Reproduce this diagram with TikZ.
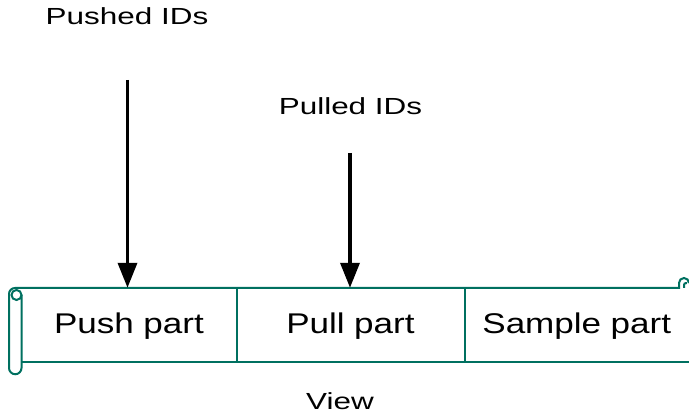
\documentclass[tikz,border=0pt]{standalone}
\usepackage{fontspec}
\setmainfont{Liberation Sans}[FakeStretch=1.35]
\newfontfamily\cellfont{Liberation Sans}[FakeStretch=1.23]
\usetikzlibrary{arrows.meta}
\definecolor{scrollgreen}{RGB}{0,112,96}
\begin{document}
\begin{tikzpicture}[x=1pt, y=1pt,
  idlabel/.style={font=\fontsize{23.3}{28}\selectfont, anchor=base, inner sep=0pt},
  cell/.style={font=\cellfont\fontsize{28.5}{33}\selectfont, inner sep=0pt, text height=46pt, text depth=28pt, align=center},
  idarrow/.style={line width=3.5pt, -{Triangle[width=19pt,length=25pt]}},
  scrollline/.style={draw=scrollgreen, line width=2pt}]
\useasboundingbox (0,0) rectangle (689,417);
\node[idlabel] (pushed) at (127,392) {Pushed IDs};
\node[idlabel] (pulled) at (350.5,302) {Pulled IDs};
\node[idlabel] (view) at (340,7) {View};
\node[cell, text width=215pt] (push) at (129,92) {Push part};
\node[cell, text width=228pt] (pull) at (350.5,92) {Pull part};
\node[cell, text width=224.5pt] (sample) at (576.75,92) {Sample part};
\coordinate (pushtail) at (127.5,337);
\coordinate (pulltail) at (350,264);
\draw[scrollline] (9,49) -- (9,123) arc (180:90:6) -- (679,129) -- (679,134) arc (180:0:5);
\draw[scrollline] (684,129) -- (684,132) arc (180:60:2);
\draw[scrollline] (9,49) arc (180:360:6.25) -- (21.5,122);
\draw[scrollline] (16.5,122) circle (5);
\draw[scrollline] (21.5,55) -- (689,55);
\draw[scrollline] (push.north east) -- (push.south east);
\draw[scrollline] (pull.north east) -- (pull.south east);
\draw[idarrow] (pushtail) -- (pushtail |- push.north);
\draw[idarrow] (pulltail) -- (pulltail |- pull.north);
\end{tikzpicture}
\end{document}
